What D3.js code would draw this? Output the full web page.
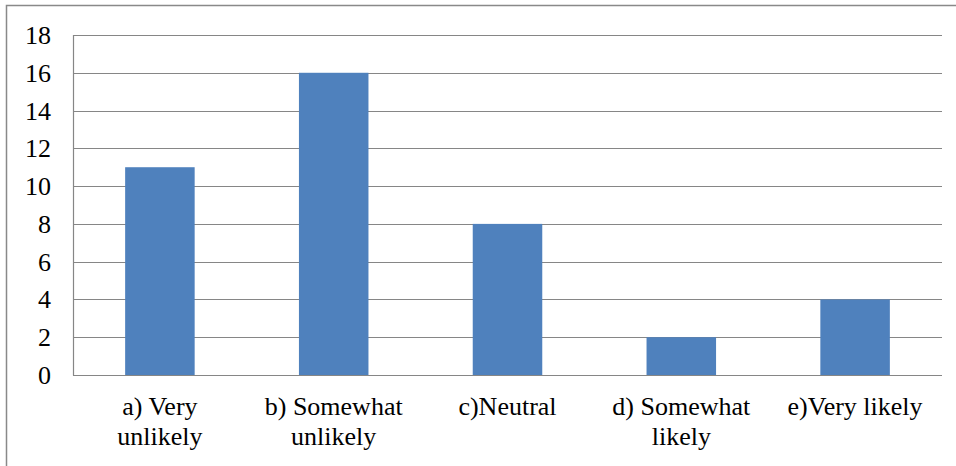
<!DOCTYPE html>
<html>
<head>
<meta charset="utf-8">
<script src="https://cdn.jsdelivr.net/npm/d3@7"></script>
</head>
<body style="margin:0">
<svg id="chart" width="956" height="466"></svg>
<script>
// Survey responses per answer option
const categories = ["a) Very unlikely", "b) Somewhat unlikely", "c)Neutral", "d) Somewhat likely", "e)Very likely"];
const counts = [11, 16, 8, 2, 4];
const yTicks = [0, 2, 4, 6, 8, 10, 12, 14, 16, 18];

const svg = d3.select("#chart");
const plot = { left: 73, right: 942, top: 35, bottom: 375 };
const gridColor = "#868686";
const barColor = "#4F81BD";
const fontSize = 26;

// Chart frame (continues past the right and bottom edges)
svg.append("rect")
  .attr("x", 6.5).attr("y", 5.5)
  .attr("width", 1000).attr("height", 600)
  .attr("fill", "none").attr("stroke", "#898989").attr("stroke-width", 1.5);

const x = d3.scaleBand()
  .domain(categories)
  .range([plot.left, plot.right])
  .paddingInner(0.6)
  .paddingOuter(0.3);

const y = d3.scaleLinear().domain([0, 18]).range([plot.bottom, plot.top]);

// Horizontal gridlines
svg.append("g").selectAll("line")
  .data(yTicks)
  .join("line")
  .attr("x1", plot.left).attr("x2", plot.right)
  .attr("y1", d => Math.round(y(d)) + 0.5).attr("y2", d => Math.round(y(d)) + 0.5)
  .attr("stroke", gridColor).attr("stroke-width", 1.2);

// Value axis line
svg.append("line")
  .attr("x1", plot.left + 0.5).attr("x2", plot.left + 0.5)
  .attr("y1", plot.top).attr("y2", plot.bottom + 0.5)
  .attr("stroke", gridColor).attr("stroke-width", 1.2);

// Bars
svg.append("g").selectAll("rect")
  .data(counts)
  .join("rect")
  .attr("x", (d, i) => x(categories[i]))
  .attr("width", x.bandwidth())
  .attr("y", d => y(d))
  .attr("height", d => y(0) - y(d))
  .attr("fill", barColor);

// Tick labels
svg.append("g").selectAll("text")
  .data(yTicks)
  .join("text")
  .attr("x", 51)
  .attr("y", d => y(d) + 9)
  .attr("text-anchor", "end")
  .attr("font-size", fontSize)
  .style("font-family", "'Liberation Serif'")
  .text(d => d);

// Category labels: one text per line, broken at the wrap width
const maxLabelWidth = 150;
const lineHeight = 30;
const probe = svg.append("text")
  .attr("font-size", fontSize)
  .style("font-family", "'Liberation Serif'");
const labelLines = categories.map(c => {
  const lines = [];
  let cur = [];
  for (const w of c.split(" ")) {
    const next = cur.concat([w]);
    probe.text(next.join(" "));
    if (cur.length && probe.node().getComputedTextLength() > maxLabelWidth) {
      lines.push(cur.join(" "));
      cur = [w];
    } else {
      cur = next;
    }
  }
  lines.push(cur.join(" "));
  return lines;
});
probe.remove();

const labelData = [];
labelLines.forEach((lines, i) => lines.forEach((t, j) => labelData.push({ cat: categories[i], text: t, line: j })));

svg.append("g").selectAll("text")
  .data(labelData)
  .join("text")
  .attr("x", d => x(d.cat) + x.bandwidth() / 2)
  .attr("y", d => 415 + d.line * lineHeight)
  .attr("text-anchor", "middle")
  .attr("font-size", fontSize)
  .style("font-family", "'Liberation Serif'")
  .text(d => d.text);
</script>
</body>
</html>
